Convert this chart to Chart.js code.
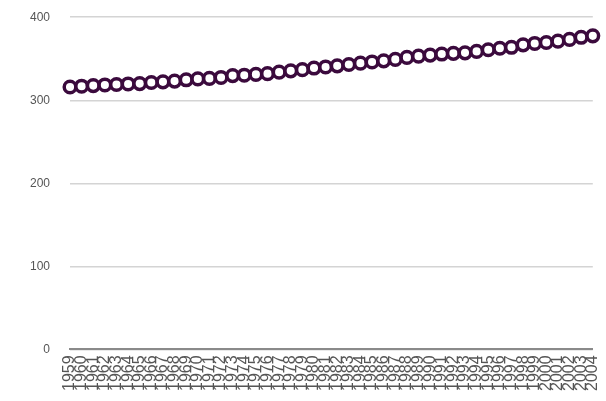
<!DOCTYPE html>
<html>
<head>
<meta charset="utf-8">
<script src="https://cdn.jsdelivr.net/npm/chart.js@4/dist/chart.umd.min.js"></script>
<style>
	html, body { margin: 0; padding: 0; background: #fff; overflow: hidden; }
	#wrap { position: absolute; left: 0; top: -10px; width: 618px; height: 411px; }
</style>
</head>
<body>
<div id="wrap"><canvas id="co2Chart"></canvas></div>
<script>
// annual mean values, 1959 - 2004
const years = [];
for (let y = 1959; y <= 2004; y++) years.push(String(y));

const co2 = [
	315.98, 316.91, 317.64, 318.45, 318.99, 319.62, 320.04, 321.38, 322.16, 323.04,
	324.62, 325.68, 326.32, 327.45, 329.68, 330.18, 331.11, 332.04, 333.83, 335.40,
	336.84, 338.75, 340.11, 341.45, 343.05, 344.65, 346.12, 347.42, 349.19, 351.57,
	353.12, 354.39, 355.61, 356.45, 357.10, 358.83, 360.82, 362.61, 363.73, 366.70,
	368.38, 369.55, 371.14, 373.28, 375.80, 377.52
];

const yTicks = [0, 100, 200, 300, 400];

const ctx = document.getElementById("co2Chart").getContext("2d");
new Chart(ctx, {
	type: "line",
	data: {
		labels: years,
		datasets: [
			{
				data: co2,
				showLine: false,
				borderColor: "#3b0a3d",
				backgroundColor: "#ffffff",
				pointBackgroundColor: "#ffffff",
				pointBorderColor: "#3b0a3d",
				pointBorderWidth: 3.5,
				pointRadius: 5.8,
			},
		],
	},
	options: {
		responsive: true,
		maintainAspectRatio: false,
		animation: false,
		layout: { padding: { top: 10, right: 13, left: 10, bottom: 4 } },
		plugins: {
			legend: { display: false },
			tooltip: { enabled: false },
		},
		scales: {
			x: {
				offset: false,
				grid: { display: false, drawTicks: false },
				border: { display: true, color: "#8a8a8a", width: 2 },
				ticks: {
					autoSkip: false,
					minRotation: 90,
					maxRotation: 90,
					padding: 6,
					color: "#555",
					font: { family: "Liberation Sans", size: 16 },
				},
			},
			y: {
				min: 0,
				max: 400,
				afterBuildTicks: (axis) => { axis.ticks = yTicks.map((v) => ({ value: v })); },
				grid: { color: "#d4d4d4", lineWidth: 1.5, drawTicks: false },
				border: { display: false },
				ticks: {
					padding: 20,
					color: "#555",
					font: { family: "Liberation Sans", size: 12 },
				},
			},
		},
	},
});
</script>
</body>
</html>
